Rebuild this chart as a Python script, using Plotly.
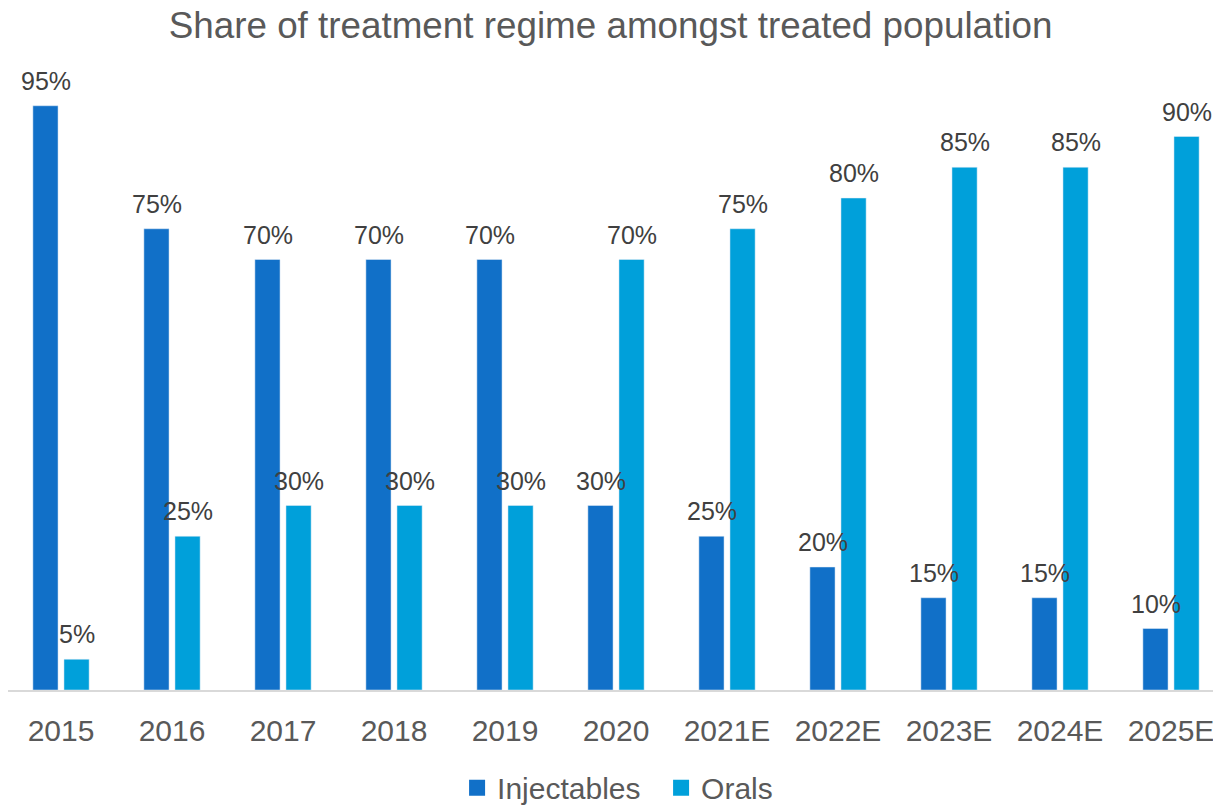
import plotly.graph_objects as go

years = ["2015", "2016", "2017", "2018", "2019", "2020", "2021E", "2022E", "2023E", "2024E", "2025E"]
injectables = [95, 75, 70, 70, 70, 30, 25, 20, 15, 15, 10]
orals = [5, 25, 30, 30, 30, 70, 75, 80, 85, 85, 90]

FONT = "Liberation Sans, Arial, sans-serif"
LABEL_FONT = dict(size=25, color="#404040", family=FONT)
C_INJ = "#1170C8"
C_ORAL = "#00A0DA"

fig = go.Figure()
fig.add_trace(go.Bar(x=years, y=injectables, name="Injectables",
                     marker=dict(color=C_INJ), showlegend=False))
fig.add_trace(go.Bar(x=years, y=orals, name="Orals",
                     marker=dict(color=C_ORAL), showlegend=False))

# legend entries with larger square keys
for name, col in [("Injectables", C_INJ), ("Orals", C_ORAL)]:
    fig.add_trace(go.Scatter(x=[None], y=[None], mode="markers", name=name,
                             marker=dict(symbol="square", size=16, color=col)))

# value labels above bars (category index positions on the category axis)
for series, shift in [(injectables, -15.5), (orals, 15.5)]:
    for i, v in enumerate(series):
        fig.add_annotation(x=i, y=v, text=f"{v}%", showarrow=False,
                           xanchor="center", yanchor="bottom",
                           xshift=shift, yshift=9, font=LABEL_FONT)

fig.update_layout(
    width=1221, height=806,
    paper_bgcolor="white", plot_bgcolor="white",
    font=dict(family=FONT, color="#595959"),
    title=dict(text="Share of treatment regime amongst treated population",
               x=0.4935, xanchor="center", y=1 - 17 / 806, yanchor="middle", yref="container",
               font=dict(size=36.8, color="#595959", family=FONT)),
    margin=dict(l=0, r=0, t=67, b=122),
    barmode="group", bargap=0.44, bargroupgap=0.19,
    showlegend=True,
    legend=dict(orientation="h", x=0.3678, xanchor="left", y=-0.159, yanchor="middle",
                entrywidth=159,
                font=dict(size=30, color="#595959", family=FONT)),
    xaxis=dict(type="category", showline=True, linecolor="#D9D9D9", linewidth=2, showgrid=False,
               range=[-0.4775, 10.5225],
               tickfont=dict(size=30, color="#595959", family=FONT), ticks="",
               ticklabelstandoff=13),
    yaxis=dict(range=[0, 100], visible=False, showgrid=False),
)

fig.write_html("out.html")
